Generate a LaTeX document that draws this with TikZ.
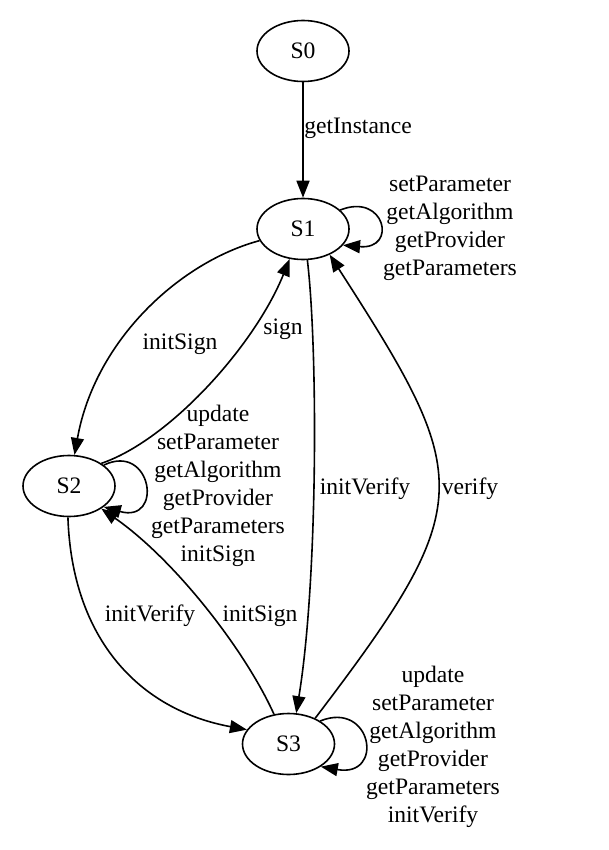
\documentclass[tikz,border=0pt]{standalone}
\usepackage{fontspec}
\setmainfont{Liberation Serif}
\usetikzlibrary{arrows.meta,shapes.geometric}
\begin{document}
\begin{tikzpicture}[x=1pt,y=-1pt,
  state/.style={draw, ellipse, line width=1.6pt, minimum width=92pt, minimum height=61pt, inner sep=0pt, font=\fontsize{23.6}{28}\selectfont},
  lbl/.style={align=center, inner sep=0pt, font=\fontsize{23.6}{28}\selectfont},
  edge/.style={line width=1.6pt, -{Triangle[length=17pt,width=13pt]}}]
\useasboundingbox (0,0) rectangle (609,850);

\node[state] (s0) at (303,51) {S0};
\node[state] (s1) at (303,229) {S1};
\node[state] (s2) at (69,486) {S2};
\node[state] (s3) at (288.5,744) {S3};

% S0 -> S1
\draw[edge] (s0.south) -- (s1.north);
\node[lbl] (l01) at (358,128) {getInstance};

% S1 self loop
\draw[edge] (s1.27) .. controls (385,192) and (398,250) .. (s1.338);
\node[lbl] (l11) at (450,228) {setParameter\\getAlgorithm\\getProvider\\getParameters};

% S1 -> S2
\draw[edge] (s1.195) .. controls (180,262) and (95,340) .. (s2.80);
\node[lbl] (l12) at (180,344) {initSign};

% S2 -> S1
\draw[edge] (s2.35) .. controls (170,440) and (255,345) .. (s1.246);
\node[lbl] (l21) at (283,329) {sign};

% S2 self loop
\draw[edge] (s2.31) .. controls (152,442) and (164,524) .. (s2.329);
\node[lbl] (l22) at (218,486) {update\\setParameter\\getAlgorithm\\getProvider\\getParameters\\initSign};

% S1 -> S3
\draw[edge] (s1.278) .. controls (318,350) and (318,580) .. (s3.76);
\node[lbl] (l13) at (365,489) {initVerify};

% S3 -> S1
\draw[edge] (s3.44) .. controls (479,503) and (474,479) .. (s1.316);
\node[lbl] (l31) at (470,489) {verify};

% S2 -> S3
\draw[edge] (s2.268) .. controls (72,640) and (140,710) .. (s3.161);
\node[lbl] (l23) at (150,616) {initVerify};

% S3 -> S2
\draw[edge] (s3.116) .. controls (245,650) and (175,560) .. (s2.325);
\node[lbl] (l32) at (260,616) {initSign};

% S3 self loop
\draw[edge] (s3.36) .. controls (372,700) and (385,778) .. (s3.325);
\node[lbl] (l33) at (433,747) {update\\setParameter\\getAlgorithm\\getProvider\\getParameters\\initVerify};
\end{tikzpicture}
\end{document}
